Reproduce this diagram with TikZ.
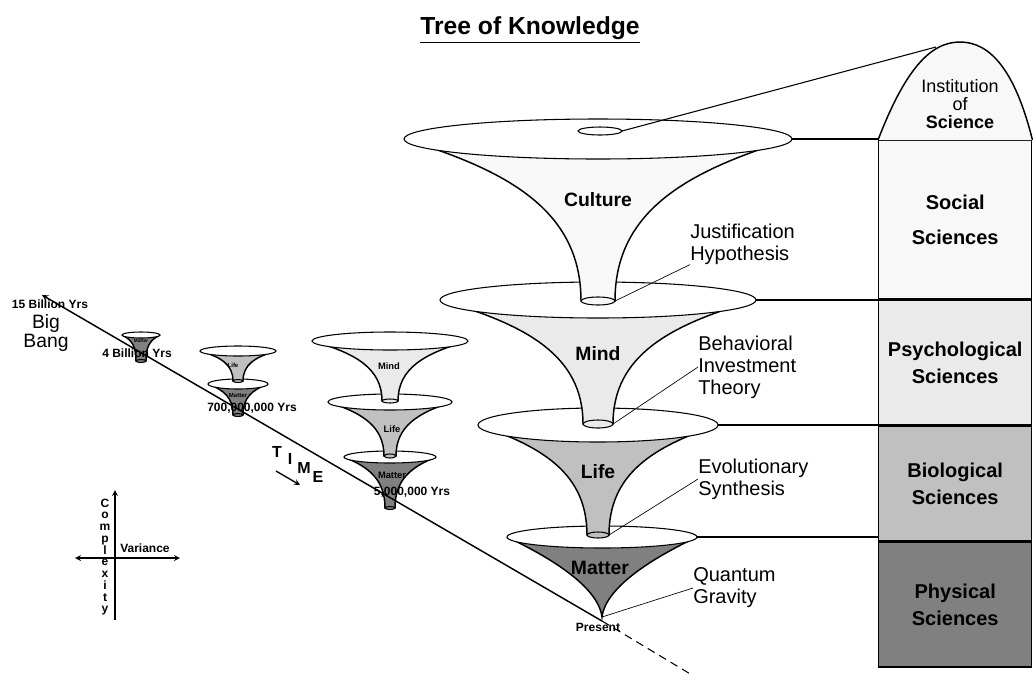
\documentclass[tikz,border=0pt]{standalone}
\usepackage{fontspec}
\setmainfont{Liberation Sans}
\usetikzlibrary{positioning, arrows.meta}

\definecolor{culturefill}{HTML}{F8F8F8}
\definecolor{mindfill}{HTML}{EAEAEA}
\definecolor{lifefill}{HTML}{C0C0C0}
\definecolor{matterfill}{HTML}{808080}

% funnel: x, rim y, rim rx, rim ry, neck y, neck rx, neck ry, fill
\newcommand{\funnel}[8]{%
  \filldraw[fill=#8, funnelside] ({#1-#3},#2) .. controls ({#1-0.45*#3},{#2+0.2*(#5-#2)}) and ({#1-#6},{#2+0.45*(#5-#2)}) .. ({#1-#6},#5)
    -- ({#1+#6},#5) .. controls ({#1+#6},{#2+0.45*(#5-#2)}) and ({#1+0.45*#3},{#2+0.2*(#5-#2)}) .. ({#1+#3},#2);
  \filldraw[fill=white, rim] (#1,#2) ellipse [x radius=#3, y radius=#4];
  \filldraw[fill=#8, rim] (#1,#5) ellipse [x radius=#6, y radius=#7];
}

\begin{document}
\begin{tikzpicture}[x=0.75pt, y=-0.75pt, >=stealth,
    funnelside/.style={line width=1.1pt},
    rim/.style={line width=0.8pt},
    lead/.style={line width=0.5pt},
    biglbl/.style={font=\fontsize{14.5}{16}\selectfont\bfseries},
    note/.style={align=left, inner sep=0pt, font=\fontsize{15}{16.5}\selectfont},
    box/.style={draw, line width=1.1pt, minimum width=114.75pt, inner sep=0pt, align=center, font=\fontsize{15}{20}\selectfont\bfseries},
    yrs/.style={font=\fontsize{9}{10}\selectfont\bfseries, inner sep=0pt},
    smalllbl/.style={inner sep=0pt, font=\fontsize{7}{8}\selectfont\bfseries}]

  \useasboundingbox (0,0) rectangle (1033,676);

  % Title
  \node[font=\fontsize{18.5}{20}\selectfont\bfseries] (title) at (530,30) {\underline{Tree of Knowledge}};

  % Columns of sciences
  \node[box, fill=culturefill, minimum height=118.5pt, anchor=north west] (social) at (878,140) {Social\\[6pt]Sciences};
  \node[box, fill=mindfill, minimum height=93.75pt, below=0pt of social] (psych) {Psychological\\Sciences};
  \node[box, fill=lifefill, minimum height=85.5pt, below=0pt of psych] (bio) {Biological\\Sciences};
  \node[box, fill=matterfill, minimum height=93.75pt, below=0pt of bio] (phys) {Physical\\Sciences};

  % Institution dome
  \filldraw[fill=culturefill, line width=1.1pt] (social.north west) .. controls (905,70) and (930,42) .. (960,42) .. controls (990,42) and (1015,70) .. (social.north east);
  \node[align=center, font=\fontsize{13.5}{13.5}\selectfont] (inst) at (960,104) {Institution\\of\\\textbf{Science}};

  % Big funnels, from the bottom up
  \filldraw[fill=matterfill, funnelside] (507,537) .. controls (545,555) and (598,585) .. (602,617) .. controls (606,585) and (659,555) .. (697,537);
  \filldraw[fill=white, rim] (602,537) ellipse [x radius=95, y radius=11];
  \funnel{598}{425}{120}{17}{535}{11}{3}{lifefill}
  \funnel{598}{300}{158}{18}{424}{15}{4}{mindfill}
  \funnel{598}{139}{194}{20}{301}{17}{4}{culturefill}
  \draw[rim, fill=white] (600,131) ellipse [x radius=22, y radius=4];

  \coordinate (matterR) at (697,537);
  \coordinate (lifeR) at (718,425);
  \coordinate (mindR) at (756,300);
  \coordinate (cultureR) at (792,139);
  \coordinate (apex) at (602,617);
  \coordinate (lifeneck) at (609,535);
  \coordinate (mindneck) at (613,424);
  \coordinate (cultureneck) at (615,301);
  \coordinate (instlink) at (622,131);
  \coordinate (domept) at (936,47);

  \node[biglbl] (culture) at (598,200) {Culture};
  \node[biglbl] (mind) at (598,354) {Mind};
  \node[biglbl] (life) at (598,472) {Life};
  \node[biglbl] (matter) at (600,568) {Matter};

  % Links to the columns
  \draw[line width=0.8pt] (cultureR) -- (cultureR -| social.west);
  \draw[line width=0.8pt] (mindR) -- (mindR -| psych.west);
  \draw[line width=0.8pt] (lifeR) -- (lifeR -| bio.west);
  \draw[line width=0.8pt] (matterR) -- (matterR -| phys.west);
  \draw[line width=0.8pt] (instlink) -- (domept);

  % Theories
  \node[note, anchor=west] (justif) at (690,244) {Justification\\Hypothesis};
  \node[note, anchor=west] (bit) at (698,367) {Behavioral\\Investment\\Theory};
  \node[note, anchor=west] (evol) at (698,479) {Evolutionary\\Synthesis};
  \node[note, anchor=west] (quantum) at (693,588) {Quantum\\Gravity};
  \draw[lead] (justif.south west) -- (cultureneck);
  \draw[lead] (bit.west) -- (mindneck);
  \draw[lead] (evol.west) -- (lifeneck);
  \draw[lead] (quantum.west) -- (apex);

  % Small funnels along the time line
  \funnel{141}{335}{19}{3}{361}{5}{1.5}{matterfill}
  \node[smalllbl, font=\fontsize{3.5}{4}\selectfont\bfseries] (m1) at (141,341) {Matter};
  \funnel{238}{384}{30}{5}{415}{5}{1.5}{matterfill}
  \funnel{238}{351}{38}{5}{381}{5}{1.5}{lifefill}
  \node[smalllbl, font=\fontsize{4.5}{5}\selectfont\bfseries] (l2) at (233,365) {Life};
  \node[smalllbl, font=\fontsize{4.5}{5}\selectfont\bfseries] (m2) at (238,395) {Matter};
  \funnel{390}{457}{46}{6}{508}{5}{1.5}{matterfill}
  \funnel{390}{402}{62}{8}{456}{6}{2}{lifefill}
  \funnel{390}{341}{78}{9}{401}{8}{2}{mindfill}
  \node[smalllbl] (mind3) at (389,366) {Mind};
  \node[smalllbl] (life3) at (392,429) {Life};
  \node[smalllbl] (matter3) at (392,475) {Matter};

  % Time line
  \coordinate (bang) at (42,295);
  \coordinate (present) at (602,621);
  \coordinate (future) at (692,675);
  \draw[line width=1.1pt, ->] (present) -- (bang);
  \draw[line width=0.8pt, dash pattern=on 6pt off 4pt] (present) -- (future);

  \node[yrs] (yr15) at (50,304) {15 Billion Yrs};
  \node[align=center, font=\fontsize{14.5}{12.5}\selectfont] (bigbang) at (46,333) {Big\\Bang};
  \node[yrs] (yr4) at (137,353) {4 Billion Yrs};
  \node[yrs] (yr700) at (252,408) {700,000,000 Yrs};
  \node[yrs] (yr5) at (412,492) {5,000,000 Yrs};
  \node[yrs] (presentlbl) at (598,627) {Present};

  \foreach \ch/\px/\py [count=\i] in {T/277/452, I/290/459, M/304/468, E/318/477}
    \node[font=\fontsize{12}{12}\selectfont\bfseries, inner sep=0pt] (time\i) at (\px,\py) {\ch};
  \coordinate (ta) at (276,471);
  \coordinate (tb) at (300,485);
  \draw[line width=1pt, ->] (ta) -- (tb);

  % Axes
  \coordinate (vtop) at (115,490);
  \coordinate (vbot) at (115,620);
  \coordinate (hleft) at (75,558);
  \coordinate (hright) at (180,558);
  \draw[line width=1pt, ->] (vbot) -- (vtop);
  \draw[line width=1pt, <->] (hleft) -- (hright);
  \node[yrs, anchor=west] (variance) at (120,548) {Variance};
  \node[align=center, inner sep=0pt, font=\fontsize{9}{8.8}\selectfont\bfseries] (complexity) at (105,557) {C\\o\\m\\p\\l\\e\\x\\i\\t\\y};

\end{tikzpicture}
\end{document}
